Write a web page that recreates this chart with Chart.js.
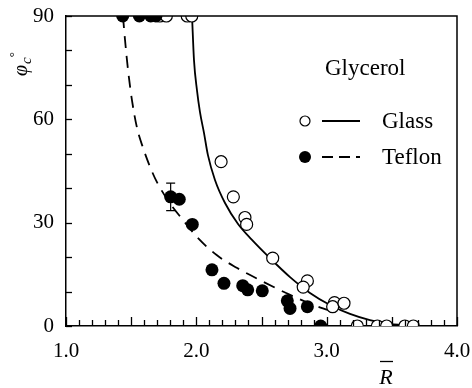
<!DOCTYPE html>
<html><head><meta charset="utf-8">
<script src="https://cdn.jsdelivr.net/npm/chart.js@4.4.1/dist/chart.umd.min.js"></script>
<style>html,body{margin:0;padding:0;background:#fff}</style>
</head><body>
<canvas id="c" width="472" height="388"></canvas>
<script>
// ---- data ----
const glassX = [1.72, 1.77, 1.93, 1.965, 2.19, 2.284, 2.373, 2.386, 2.586, 2.852, 2.82, 3.06, 3.046, 3.133, 3.235, 3.389, 3.46, 3.60, 3.665];
const glassY = [90, 90, 90, 90, 47.7, 37.5, 31.5, 29.5, 19.7, 13.1, 11.3, 6.8, 5.6, 6.6, 0, 0, 0, 0, 0];
const teflonX = [1.435, 1.563, 1.65, 1.69, 1.803, 1.869, 1.969, 2.12, 2.212, 2.356, 2.394, 2.506, 2.698, 2.719, 2.852, 2.954];
const teflonY = [90, 90, 90, 90, 37.5, 36.8, 29.5, 16.3, 12.4, 11.7, 10.5, 10.2, 7.3, 5.1, 5.6, 0];
const glassCurveX = [1.967, 1.982, 2.005, 2.028, 2.059, 2.089, 2.143, 2.22, 2.32, 2.427, 2.565, 2.719, 2.872, 3.026, 3.179, 3.332, 3.486, 3.716];
const glassCurveY = [90, 77.2, 68.4, 62.1, 56.0, 49.6, 42.4, 35.7, 29.6, 25.0, 19.7, 14.2, 9.6, 6.1, 3.5, 1.7, 0.6, 0];
const teflonCurveX = [1.437, 1.453, 1.476, 1.506, 1.545, 1.593, 1.645, 1.696, 1.798, 1.888, 2.003, 2.156, 2.31, 2.489, 2.693, 2.897, 3.08];
const teflonCurveY = [90, 83, 74.3, 65.6, 57.5, 51.5, 46.2, 41.9, 35.6, 31.2, 25.9, 20.6, 16.9, 13.3, 9.5, 6.1, 3.8];
const errBarX = [1.803];
const errBarLow = [33.5];
const errBarHigh = [41.5];
const xTickLabels = [1, 2, 3, 4];
const yTickLabels = [0, 30, 60, 90];
const legendTitle = 'Glycerol';
const seriesNames = ['Glass', 'Teflon'];

const FONT = '"Liberation Serif", "Times New Roman", serif';
const pts = (xs, ys) => xs.map((x, i) => ({x, y: ys[i]}));

const decor = {
  id: 'decor',
  afterDraw(chart) {
    const ctx = chart.ctx, a = chart.chartArea;
    const xs = chart.scales.x, ys = chart.scales.y;
    ctx.save();
    ctx.strokeStyle = '#000';
    ctx.lineWidth = 1.5;
    ctx.beginPath();
    ctx.moveTo(a.left, a.top); ctx.lineTo(a.right, a.top); ctx.lineTo(a.right, a.bottom);
    ctx.stroke();
    ctx.lineWidth = 1.3;
    for (let i = 0; i <= 30; i++) {
      const v = 1 + i * 0.1;
      const px = Math.round(xs.getPixelForValue(v)) + 0.5;
      const len = (i % 5 === 0) ? 9 : 6;
      ctx.beginPath(); ctx.moveTo(px, a.bottom); ctx.lineTo(px, a.bottom - len); ctx.stroke();
    }
    for (let i = 0; i <= 9; i++) {
      const py = Math.round(ys.getPixelForValue(i * 10)) + 0.5;
      ctx.beginPath(); ctx.moveTo(a.left, py); ctx.lineTo(a.left + 6, py); ctx.stroke();
    }
    ctx.lineWidth = 1.2;
    errBarX.forEach((x, i) => {
      const px = xs.getPixelForValue(x);
      const p1 = ys.getPixelForValue(errBarLow[i]);
      const p2 = ys.getPixelForValue(errBarHigh[i]);
      ctx.beginPath();
      ctx.moveTo(px, p1); ctx.lineTo(px, p2);
      ctx.moveTo(px - 4.5, p1); ctx.lineTo(px + 4.5, p1);
      ctx.moveTo(px - 4.5, p2); ctx.lineTo(px + 4.5, p2);
      ctx.stroke();
    });
    ctx.fillStyle = '#000';
    ctx.font = '23px ' + FONT;
    ctx.textBaseline = 'alphabetic';
    ctx.textAlign = 'left';
    ctx.fillText(legendTitle, 325, 75);
    ctx.fillText(seriesNames[0], 382, 128);
    ctx.fillText(seriesNames[1], 382, 164);
    ctx.lineWidth = 1.2;
    ctx.beginPath(); ctx.arc(305, 121, 5, 0, Math.PI * 2);
    ctx.fillStyle = '#fff'; ctx.fill(); ctx.stroke();
    ctx.fillStyle = '#000';
    ctx.beginPath(); ctx.arc(305, 157, 6, 0, Math.PI * 2); ctx.fill();
    ctx.lineWidth = 2;
    ctx.beginPath(); ctx.moveTo(322, 121); ctx.lineTo(360, 121); ctx.stroke();
    ctx.setLineDash([11, 6]);
    ctx.beginPath(); ctx.moveTo(322, 157); ctx.lineTo(360, 157); ctx.stroke();
    ctx.setLineDash([]);
    ctx.font = 'italic 22px ' + FONT;
    ctx.textAlign = 'center';
    ctx.fillText('R', 386, 384);
    ctx.lineWidth = 1.3;
    ctx.beginPath(); ctx.moveTo(380, 361.5); ctx.lineTo(393, 361.5); ctx.stroke();
    ctx.save();
    ctx.translate(27, 76);
    ctx.rotate(-Math.PI / 2);
    ctx.textAlign = 'left';
    ctx.font = 'italic 20px ' + FONT;
    ctx.fillText('\u03C6', 0, 0);
    const w = ctx.measureText('\u03C6').width;
    ctx.font = 'italic 15px ' + FONT;
    ctx.fillText('c', w + 1, 4);
    const wc = ctx.measureText('c').width;
    ctx.font = '13px ' + FONT;
    ctx.fillText('\u00B0', w + wc + 1, -9);
    ctx.restore();
    ctx.restore();
  }
};

const zeroPad = s => { s.paddingTop = 0; s.paddingBottom = 0; s.paddingLeft = 0; s.paddingRight = 0; };

new Chart(document.getElementById('c'), {
  type: 'scatter',
  data: {
    datasets: [
      { label: 'Glass', data: pts(glassX, glassY), order: 1,
        pointRadius: 6, pointBackgroundColor: '#fff', pointBorderColor: '#000', pointBorderWidth: 1.2, showLine: false },
      { label: 'Teflon', data: pts(teflonX, teflonY), order: 0,
        pointRadius: 6.5, pointBackgroundColor: '#000', pointBorderColor: '#000', pointBorderWidth: 0, showLine: false },
      { label: 'Glass fit', data: pts(glassCurveX, glassCurveY), order: 3, showLine: true,
        pointRadius: 0, borderColor: '#000', borderWidth: 1.8, cubicInterpolationMode: 'monotone', fill: false },
      { label: 'Teflon fit', data: pts(teflonCurveX, teflonCurveY), order: 3, showLine: true,
        pointRadius: 0, borderColor: '#000', borderWidth: 1.8, borderDash: [12, 8], cubicInterpolationMode: 'monotone', fill: false }
    ]
  },
  options: {
    responsive: false,
    animation: false,
    devicePixelRatio: 1,
    layout: { padding: { top: 16, right: 15, left: 0, bottom: 0 }, autoPadding: false },
    plugins: { legend: { display: false }, tooltip: { enabled: false } },
    scales: {
      x: {
        type: 'linear', min: 1, max: 4,
        grid: { display: false, drawTicks: false },
        border: { display: true, color: '#000', width: 1.5 },
        afterBuildTicks: s => { s.ticks = xTickLabels.map(v => ({ value: v })); },
        ticks: { callback: v => Number(v).toFixed(1), color: '#000', font: { family: FONT, size: 21 }, padding: 13, maxRotation: 0, autoSkip: false },
        afterFit: s => { s.height = 62; zeroPad(s); }
      },
      y: {
        type: 'linear', min: 0, max: 90,
        grid: { display: false, drawTicks: false },
        border: { display: true, color: '#000', width: 1.5 },
        afterBuildTicks: s => { s.ticks = yTickLabels.map(v => ({ value: v })); },
        ticks: { callback: v => String(v), color: '#000', font: { family: FONT, size: 21 }, padding: 12 },
        afterFit: s => { s.width = 66; zeroPad(s); }
      }
    }
  },
  plugins: [decor]
});
</script>
</body></html>
